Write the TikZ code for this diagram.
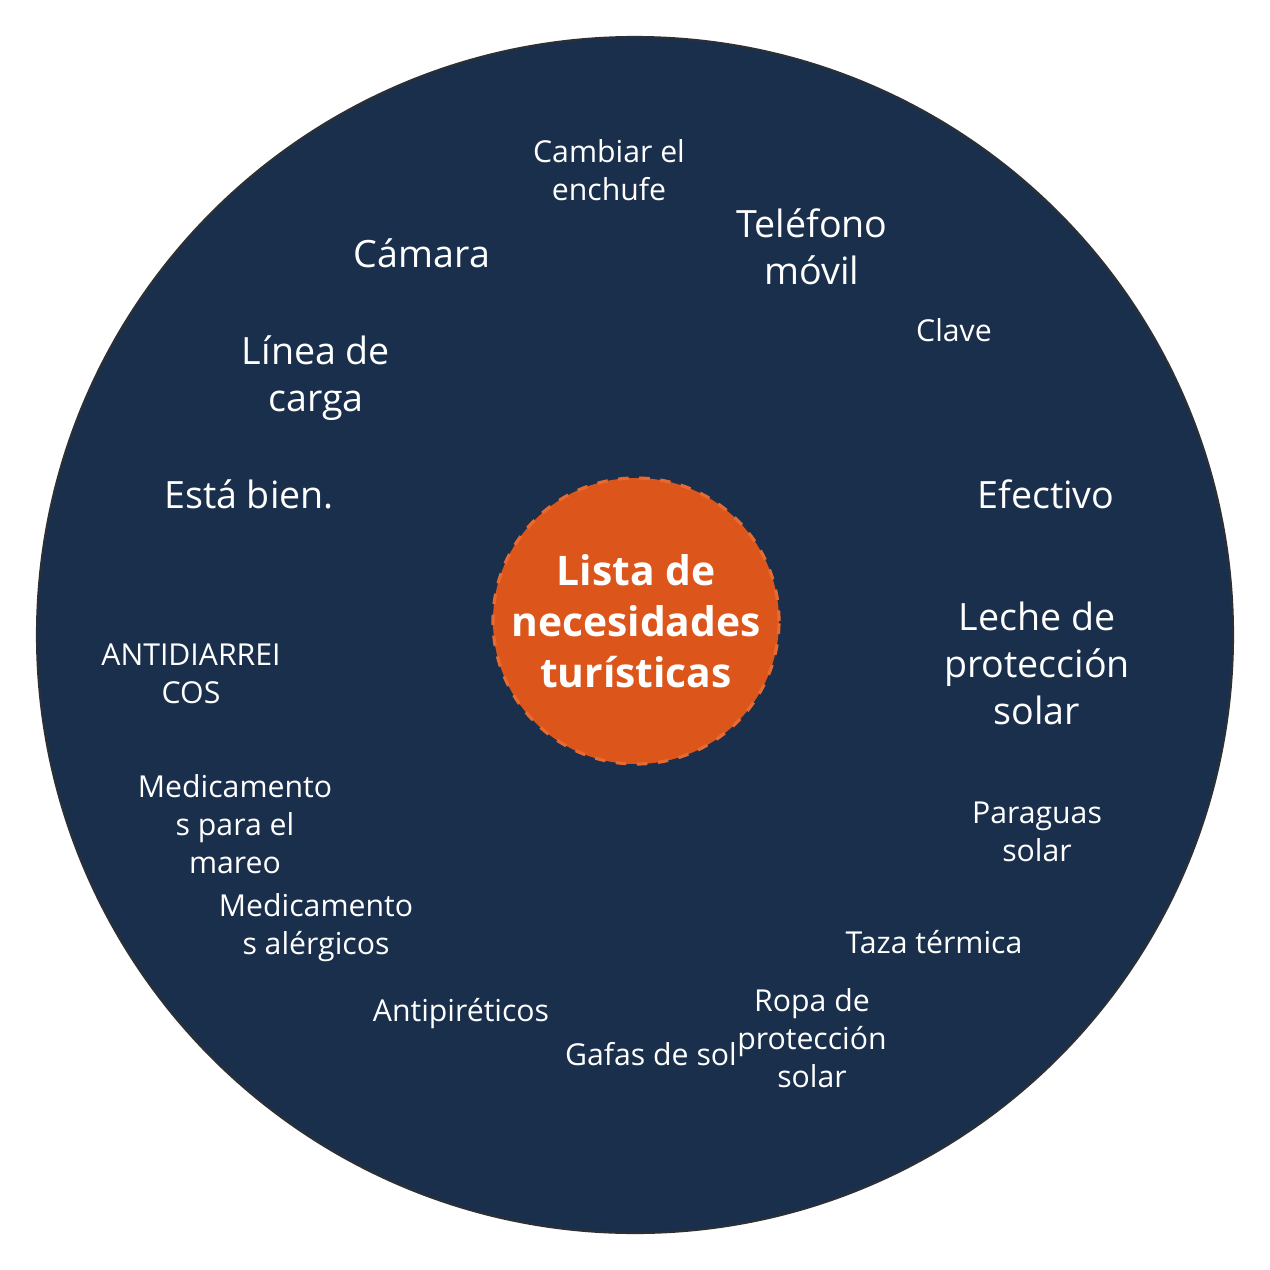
\documentclass[tikz,border=0pt]{standalone}
\usepackage{fontspec}
\setmainfont{Open Sans}
\usetikzlibrary{positioning}

\begin{document}
\begin{tikzpicture}[
    item/.style={text=white, align=center, font=\fontsize{10.7}{13.4}\selectfont},
    small item/.style={text=white, align=center, font=\fontsize{8.6}{10.8}\selectfont}
  ]
    % Color Palette
    \definecolor{navyFill}{HTML}{1A2F4B}
    \definecolor{navyBorder}{HTML}{2B2F36}
    \definecolor{hubColor}{HTML}{DC561C}
    \definecolor{hubBorder}{HTML}{E66A32}

    \useasboundingbox (0,0) rectangle (12.7,-12.7);

    % --- Big disc ---
    \node[circle, draw=navyBorder, line width=0.6pt, fill=navyFill, minimum size=11.96cm, inner sep=0pt] (disc) at (6.35,-6.35) {};

    % --- Centre ---
    \node[circle, draw=hubBorder, dashed, line width=0.9pt, fill=hubColor, minimum size=2.86cm, inner sep=0pt,
          text=white, align=center, font=\fontsize{11.6}{14.5}\selectfont\bfseries] (hub) at (6.36,-6.21)
          {Lista de\\necesidades\\turísticas};

    % --- Upper half ---
    \node[small item] (plug) at (6.09,-1.70) {Cambiar el\\enchufe};
    \node[item] (phone) at (8.12,-2.47) {Teléfono\\móvil};
    \node[item] (camera) at (4.22,-2.53) {Cámara};
    \node[small item] (key) at (9.54,-3.30) {Clave};
    \node[item] (cable) at (3.16,-3.78) {Línea de\\carga};
    \node[item] (fine) at (2.49,-4.94) {Está bien.};
    \node[item] (cash) at (10.46,-4.94) {Efectivo};
    \node[item] (lotion) at (10.37,-6.63) {Leche de\\protección\\solar};

    % --- Lower half ---
    \node[small item] (diarrhea) at (1.91,-6.74) {ANTIDIARREI\\COS};
    \node[small item] (seasick) at (2.35,-8.24) {Medicamento\\s para el\\mareo};
    \node[small item] (umbrella) at (10.37,-8.32) {Paraguas\\solar};
    \node[small item] (allergy) at (3.16,-9.28) {Medicamento\\s alérgicos};
    \node[small item] (mug) at (9.34,-9.42) {Taza térmica};
    \node[small item] (fever) at (4.61,-10.14) {Antipiréticos};
    \node[small item] (clothes) at (8.12,-10.38) {Ropa de\\protección\\solar};
    \node[small item] (glasses) at (6.51,-10.54) {Gafas de sol};

\end{tikzpicture}
\end{document}
